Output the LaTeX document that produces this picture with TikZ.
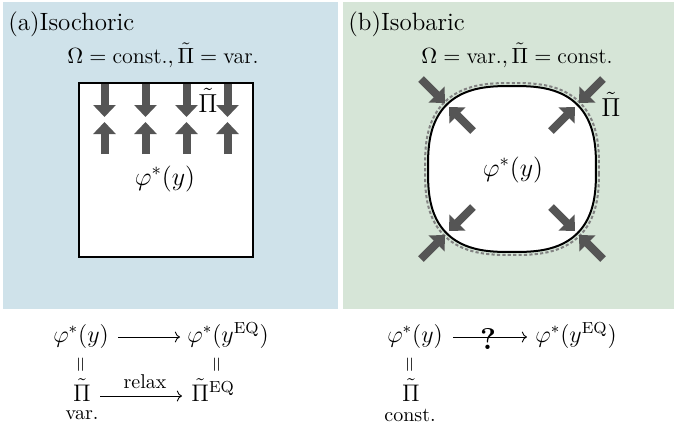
\RequirePackage{fix-cm}
\documentclass[tikz,border=0pt]{standalone}
\usepackage{amsmath}
\usetikzlibrary{arrows.meta}
\definecolor{bga}{RGB}{207,226,234}
\definecolor{bgb}{RGB}{214,229,215}
\definecolor{fatgray}{RGB}{85,85,85}
\definecolor{dashgray}{RGB}{130,130,130}
\begin{document}
\begin{tikzpicture}[x=0.5pt,y=-0.5pt,
  fat/.style={line width=4pt, draw=fatgray, -{Triangle[width=11pt,length=6pt]}},
  paneltitle/.style={inner sep=0pt, anchor=base west, font=\fontsize{12.5}{15}\selectfont},
  subtitle/.style={inner sep=0pt, anchor=base, font=\fontsize{11}{13}\selectfont},
  lab/.style={inner sep=0pt, anchor=base, font=\fontsize{13}{15}\selectfont},
  eqn/.style={inner sep=0pt, font=\fontsize{12}{14}\selectfont},
  small/.style={inner sep=0pt, anchor=base, font=\fontsize{10}{12}\selectfont},
  eqsign/.style={inner sep=0pt, rotate=90, font=\fontsize{10}{12}\selectfont},
  thinarrow/.style={line width=0.45pt, -{Computer Modern Rightarrow}},
  blob/.style={line width=1pt, draw=black, fill=white},
  blobdash/.style={line width=1pt, draw=dashgray, dash pattern=on 1.6pt off 1.1pt}]
\useasboundingbox (0,0) rectangle (676,435);
\fill[white] (0,0) rectangle (676,435);
% panel backgrounds
\fill[bga] (3,2) rectangle (338,309);
\fill[bgb] (343,2) rectangle (674,309);

% ---------- panel (a)
\node[paneltitle] (ta) at (8,30) {(a)Isochoric};
\node[subtitle] (sa) at (163,63) {$\Omega=\text{const.},\tilde{\Pi}=\text{var.}$};
\draw[line width=1pt, fill=white] (79,83) rectangle (253,257);
\foreach \cx in {104.5,145.5,186.5,227.5}{
  \draw[fat] (\cx,84) -- (\cx,117);
  \draw[fat] (\cx,154) -- (\cx,122);
}
\node[lab] (pia) at (208,112) {$\tilde{\Pi}$};
\node[lab] (phia) at (165,185) {$\varphi^*(y)$};

% ---------- panel (b)
\node[paneltitle] (tb) at (348,30) {(b)Isobaric};
\node[subtitle] (sb) at (517,63) {$\Omega=\text{var.},\tilde{\Pi}=\text{const.}$};
\begin{scope}[shift={(512,169)}]
  \draw[blobdash] plot[domain=1:359, samples=180]
    ({87*cos(\x)*abs(cos(\x))^(-0.27)}, {86*sin(\x)*abs(sin(\x))^(-0.27)}) -- cycle;
  \draw[blob] plot[domain=1:359, samples=180]
    ({84*cos(\x)*abs(cos(\x))^(-0.27)}, {83*sin(\x)*abs(sin(\x))^(-0.27)}) -- cycle;
  \foreach \sx/\sy in {-1/-1, 1/-1, -1/1, 1/1}{
    \draw[fat] (\sx*91,\sy*90) -- (\sx*67,\sy*66);
    \draw[fat] (\sx*39,\sy*38) -- (\sx*63,\sy*62);
  }
\end{scope}
\node[lab] (pib) at (611,116) {$\tilde{\Pi}$};
\node[lab] (phib) at (513,176) {$\varphi^*(y)$};

% ---------- bottom left diagram
\coordinate (axA) at (0,337);
\coordinate (axB) at (0,396);
\node[eqn, anchor=base] (l1) at (81,342) {$\varphi^*(y)$};
\node[eqn, anchor=base west] (l2) at (187,342) {$\varphi^*(y^{\mathrm{EQ}})$};
\draw[thinarrow] ([xshift=4.5pt]l1.east |- axA) -- ([xshift=-3.5pt]l2.west |- axA);
\node[eqsign] (e1) at (82,365) {$=$};
\node[eqsign] (e2) at (218,365) {$=$};
\node[eqn, anchor=base] (l5) at (82,401) {$\tilde{\Pi}$};
\node[eqn, anchor=base west] (l6) at (191,401) {$\tilde{\Pi}^{\mathrm{EQ}}$};
\draw[thinarrow] ([xshift=4.5pt]l5.east |- axB) -- ([xshift=-4.5pt]l6.west |- axB);
\node[small] (relax) at (145,388) {relax};
\node[small] (var) at (82,419) {var.};

% ---------- bottom right diagram
\node[eqn, anchor=base] (r1) at (415,342) {$\varphi^*(y)$};
\node[eqn, anchor=base west] (r2) at (535,342) {$\varphi^*(y^{\mathrm{EQ}})$};
\draw[thinarrow] ([xshift=5pt]r1.east |- axA) -- ([xshift=-4pt]r2.west |- axA);
\node[inner sep=0pt, anchor=base, font=\fontsize{15}{17}\selectfont\bfseries] (q) at (488,349) {?};
\node[eqsign] (e3) at (411,365) {$=$};
\node[eqn, anchor=base] (r5) at (411,401) {$\tilde{\Pi}$};
\node[small] (const) at (410,421) {const.};
\end{tikzpicture}
\end{document}
